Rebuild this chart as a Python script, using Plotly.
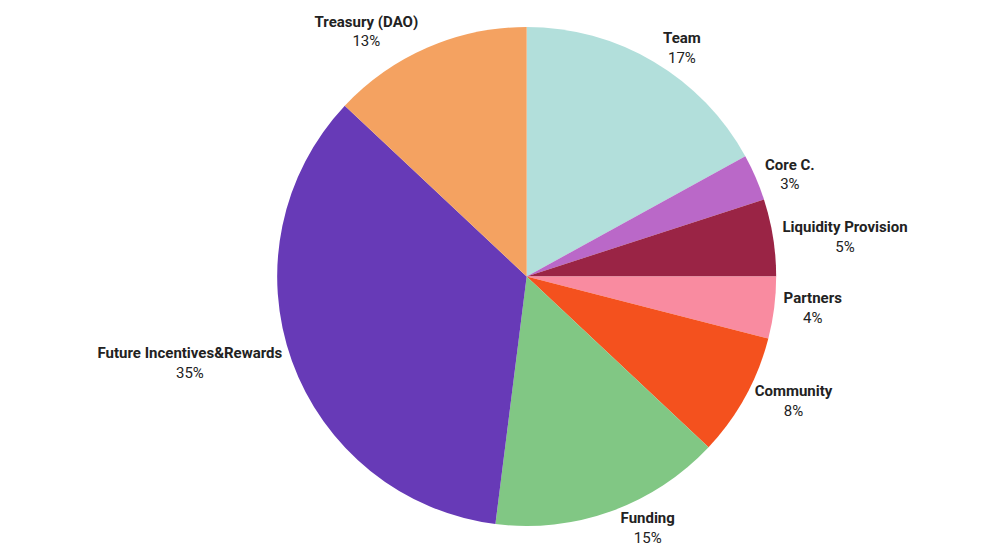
import plotly.graph_objects as go

labels = ["Team", "Core C.", "Liquidity Provision", "Partners", "Community", "Funding",
          "Future Incentives&Rewards", "Treasury (DAO)"]
values = [17, 3, 5, 4, 8, 15, 35, 13]
colors = ["#b2dfdb", "#ba68c8", "#9a2445", "#f98ba0", "#f4511e", "#81c784", "#673ab7", "#f4a261"]

fig = go.Figure(go.Pie(
    labels=labels, values=values, sort=False, direction="clockwise", rotation=0,
    marker=dict(colors=colors, line=dict(width=0)),
    textposition="outside",
    texttemplate="<b>%{label}</b><br>%{percent:.0%}",
    textfont=dict(family="Roboto, Lato, sans-serif", size=15, color="#222"),
    showlegend=False,
    domain=dict(x=[0.062, 0.849], y=[0.0, 1.0]),
))
fig.update_layout(width=989, height=554, margin=dict(l=0, r=0, t=6, b=36),
                  paper_bgcolor="white", plot_bgcolor="white")
fig.write_html("out.html")
